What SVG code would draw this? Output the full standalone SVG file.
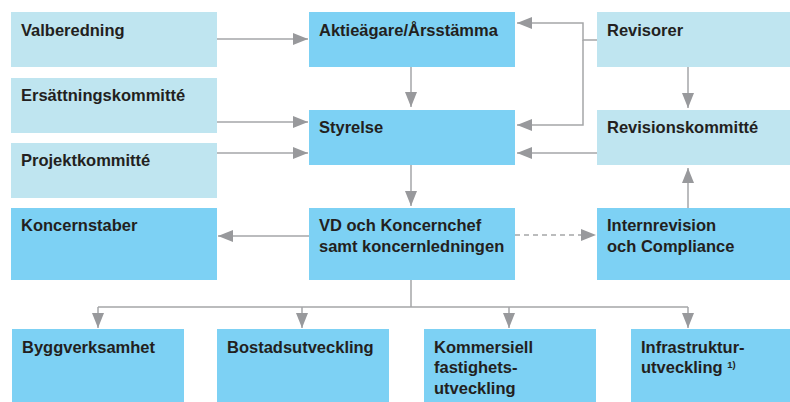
<svg xmlns="http://www.w3.org/2000/svg" width="790" height="402" viewBox="0 0 790 402">
<defs>
<marker id="ah" viewBox="0 0 15 12" refX="15" refY="6" markerWidth="15" markerHeight="12" markerUnits="userSpaceOnUse" orient="auto">
<path d="M0,0 L15,6 L0,12 Z" fill="#98999c"/>
</marker>
<style>
.l{fill:#bfe5f0}
.d{fill:#7dd1f4}
text{font-family:"Liberation Sans",Arial,sans-serif;font-weight:bold;font-size:16.5px;fill:#231f20}
.c{fill:none;stroke:#a5a6a8;stroke-width:1.5}
.a{marker-end:url(#ah)}
.ds{stroke-dasharray:5,4}
</style>
</defs>
<rect width="790" height="402" fill="#fff"/>
<g id="valberedning"><rect class="l" x="11" y="12" width="206" height="55"/><text x="21" y="36">Valberedning</text></g>
<g id="ersattning"><rect class="l" x="11" y="78" width="206" height="55"/><text x="21" y="101">Ersättningskommitté</text></g>
<g id="projekt"><rect class="l" x="11" y="143" width="206" height="55"/><text x="21" y="166">Projektkommitté</text></g>
<g id="aktieagare"><rect class="d" x="309" y="12" width="206" height="55"/><text x="319" y="36">Aktieägare/Årsstämma</text></g>
<g id="styrelse"><rect class="d" x="309" y="110" width="206" height="55"/><text x="319" y="133">Styrelse</text></g>
<g id="revisorer"><rect class="l" x="597" y="12" width="193" height="55"/><text x="607" y="36">Revisorer</text></g>
<g id="revisionskommitte"><rect class="l" x="597" y="110" width="193" height="55"/><text x="607" y="133">Revisionskommitté</text></g>
<g id="koncernstaber"><rect class="d" x="11" y="208" width="206" height="72"/><text x="21" y="231">Koncernstaber</text></g>
<g id="vd"><rect class="d" x="309" y="208" width="206" height="72"/><text x="319" y="231">VD och Koncernchef</text><text x="319" y="252">samt koncernledningen</text></g>
<g id="internrevision"><rect class="d" x="597" y="208" width="193" height="72"/><text x="607" y="231">Internrevision</text><text x="607" y="252">och Compliance</text></g>
<g id="bygg"><rect class="d" x="12" y="329" width="172" height="73"/><text x="22" y="353">Byggverksamhet</text></g>
<g id="bostad"><rect class="d" x="217" y="329" width="172" height="73"/><text x="227" y="353">Bostadsutveckling</text></g>
<g id="kommersiell"><rect class="d" x="424" y="329" width="172" height="73"/><text x="434" y="353">Kommersiell</text><text x="434" y="373">fastighets-</text><text x="434" y="394">utveckling</text></g>
<g id="infrastruktur"><rect class="d" x="631" y="329" width="159" height="73"/><text x="641" y="353">Infrastruktur-</text><text x="641" y="373">utveckling <tspan font-size="9.5" dy="-5">1)</tspan></text></g>
<g id="connectors">
<path class="c a" d="M217,39 H308"/>
<path class="c a" d="M217,122 H308"/>
<path class="c a" d="M217,153 H308"/>
<path class="c a" d="M411,67 V107"/>
<path class="c a" d="M411,165 V206"/>
<path class="c a" d="M597,40 H583 V23 H517"/>
<path class="c a" d="M583,40 V125 H517"/>
<path class="c a" d="M597,153 H517"/>
<path class="c a" d="M688,67 V108"/>
<path class="c a" d="M688,208 V168"/>
<path class="c a" d="M309,236 H218"/>
<path class="c a ds" d="M515,235 H596"/>
<path class="c" d="M411,280 V307 M98,307 H688"/>
<path class="c a" d="M98,307 V328"/>
<path class="c a" d="M302,307 V328"/>
<path class="c a" d="M509,307 V328"/>
<path class="c a" d="M688,307 V328"/>
</g>
</svg>
